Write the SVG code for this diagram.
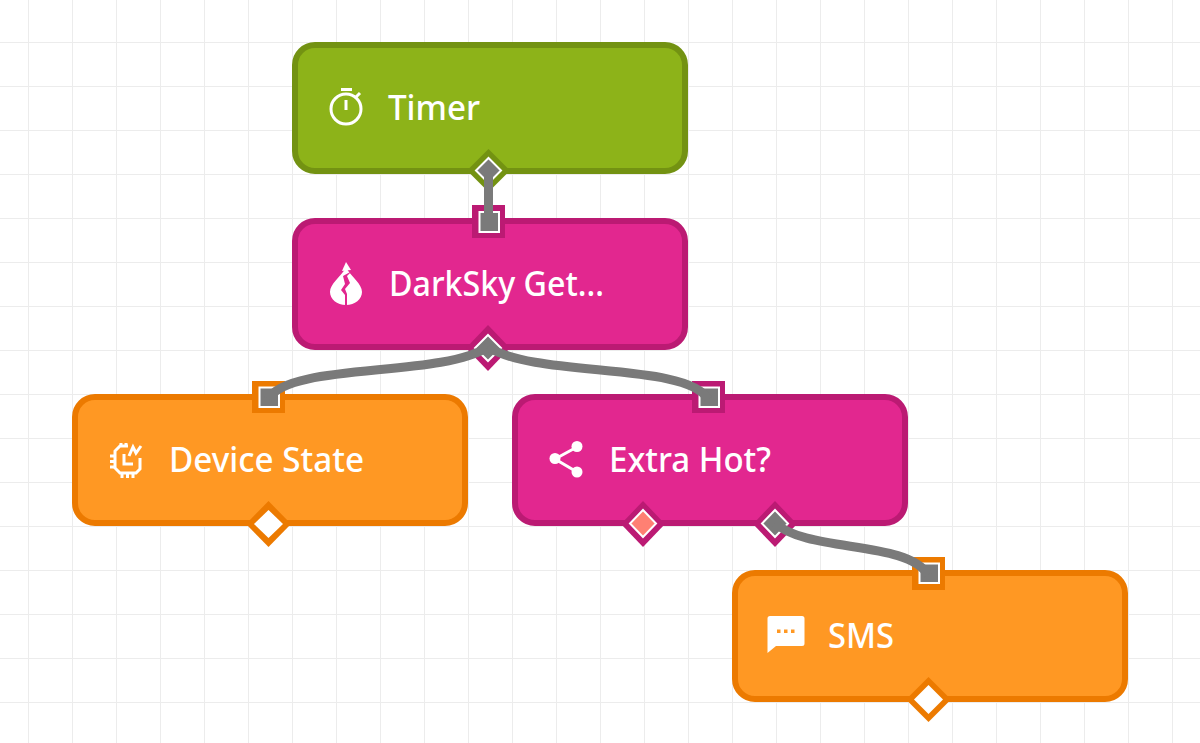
<svg xmlns="http://www.w3.org/2000/svg" width="1200" height="743" viewBox="0 0 1200 743">
<defs>
<pattern id="grid" x="28" y="42" width="44" height="44" patternUnits="userSpaceOnUse"><path d="M0.5 0V44M0 0.5H44" fill="none" stroke="#ececec" stroke-width="1"/></pattern>
<rect id="body" x="3" y="3" width="390" height="126" rx="20" ry="20"/>
</defs>
<style>
.lbl{font-family:"Noto Sans","Open Sans",Arial,sans-serif;font-size:34.500px;fill:#fff;font-weight:500}
.green{fill:#8db319;stroke:#739212;stroke-width:6}
.pink{fill:#e2278f;stroke:#bb1a73;stroke-width:6}
.orange{fill:#ff9823;stroke:#ec7a00;stroke-width:6}
.pb-green{fill:#739212}.pb-pink{fill:#bb1a73}.pb-orange{fill:#ec7a00}
.pin{fill:#7a7a7a;stroke:#fff;stroke-width:2}
.pin-open{fill:#fff}
.pin-red{fill:#ff8073;stroke:#fff;stroke-width:2}
.wire{fill:none;stroke:#7a7a7a;stroke-width:9}
.ic{fill:#fff}
.ics{fill:none;stroke:#fff;stroke-width:3}
</style>
<rect width="1200" height="743" fill="#fff"/>
<rect width="1200" height="743" fill="url(#grid)"/>

<g id="timer" transform="translate(292 42)">
<use href="#body" class="green"/>
<text class="lbl" x="96" y="78" textLength="92" lengthAdjust="spacingAndGlyphs">Timer</text>
<g transform="translate(-292 -42)">
<circle cx="346" cy="109" r="15" class="ics"/>
<path d="M341 89.500H352M346 100V110M355 98L360 93" class="ics"/>
<path class="pb-green" d="M488.500 149L510 170.500L488.500 192L467 170.500Z"/>
<path class="pin" d="M488.500 158L501 170.500L488.500 183L476 170.500Z"/>
</g>
</g>

<g id="darksky" transform="translate(292 218)">
<use href="#body" class="pink"/>
<text class="lbl" x="97" y="78" textLength="215" lengthAdjust="spacingAndGlyphs">DarkSky Get...</text>
<g transform="translate(-292 -218)">
<path class="ic" d="M346 268C352 277 362 284 362 292C362 299 355 305 346 305C337 305 330 299 330 292C330 284 340 277 346 268Z"/>
<path fill="#e2278f" d="M352 271L343 276L345 284L341 290L345 295L345 305L347 305L347 294L345 289L350 283L347 276Z"/>
<path class="ic" d="M346 262L351 270L342 271Z"/>
<path class="pb-pink" d="M472 205H505V238H472Z"/>
<path class="pin" d="M479.500 212H499V232H479.500Z"/>
<path class="pb-pink" d="M488 325L510 348L488 371L466 348Z"/>
<path class="pin" d="M488 335L501 348L488 361L475 348Z"/>
</g>
</g>

<g id="device-state" transform="translate(72 394)">
<use href="#body" class="orange"/>
<text class="lbl" x="97" y="78" textLength="195" lengthAdjust="spacingAndGlyphs">Device State</text>
<g transform="translate(-72 -394)">
<path class="ics" d="M128 446H120L115 451V468L120 473H136L140 469V458"/>
<path class="ics" d="M124 454V464H133"/>
<path class="ics" stroke-width="2.500" d="M129 456L133 447L136 453L141 446"/>
<path class="ics" d="M110 456H115M110 461.500H115M110 467H115M122 473V478M127.500 473V478M133 473V478M121 443V447M126 443V447"/>
<path class="pb-orange" d="M252 381H285V413H252Z"/>
<path class="pin" d="M259.500 387.500H279V407H259.500Z"/>
<path class="pb-orange" d="M268.500 501L291 524L268.500 547L246 524Z"/>
<path class="pin-open" d="M268.500 510L283 524L268.500 538L254 524Z"/>
</g>
</g>

<g id="extra-hot" transform="translate(512 394)">
<use href="#body" class="pink"/>
<text class="lbl" x="97" y="78" textLength="162" lengthAdjust="spacingAndGlyphs">Extra Hot?</text>
<g transform="translate(-512 -394)">
<path d="M577 447L555 459L577 472" fill="none" stroke="#fff" stroke-width="3"/>
<circle cx="577" cy="446.500" r="5.500" class="ic"/><circle cx="577" cy="472" r="5.500" class="ic"/><circle cx="555" cy="458.500" r="5.500" class="ic"/>
<path class="pb-pink" d="M692 381H725V413H692Z"/>
<path class="pin" d="M699.500 387.500H719V407H699.500Z"/>
<path class="pb-pink" d="M643 501L665 524L643 547L621 524Z"/>
<path class="pin-red" d="M643 510L656 523.500L643 537L630 523.500Z"/>
<path class="pb-pink" d="M775 501L797 524L775 547L753 524Z"/>
<path class="pin" d="M775 510L788 523.500L775 537L762 523.500Z"/>
</g>
</g>

<g id="sms" transform="translate(732 570)">
<use href="#body" class="orange"/>
<text class="lbl" x="96" y="78" textLength="66" lengthAdjust="spacingAndGlyphs">SMS</text>
<g transform="translate(-732 -570)">
<path class="ic" d="M770 616H802Q804.500 616 804.500 618.500V643.500Q804.500 646 802 646H776L767.500 653V618.500Q767.500 616 770 616Z"/>
<path d="M777 629.500h3.500v3.500h-3.500zM784 629.500h3.500v3.500h-3.500zM791 629.500h3.500v3.500h-3.500z" fill="#ff9823"/>
<path class="pb-orange" d="M912 557H945V590H912Z"/>
<path class="pin" d="M919.500 563.500H939V583H919.500Z"/>
<path class="pb-orange" d="M928.500 677L951 699.500L928.500 722L906 699.500Z"/>
<path class="pin-open" d="M928.500 685L943 699.500L928.500 714L914 699.500Z"/>
</g>
</g>

<g id="connectors">
<path class="wire" d="M488.500 171V224"/>
<path class="wire" d="M488 347C440 378 290 362 268 399"/>
<path class="wire" d="M488 347C536 378 686 362 708 399"/>
<path class="wire" d="M775 523C807 553 908 540 928 575"/>
</g>
</svg>
